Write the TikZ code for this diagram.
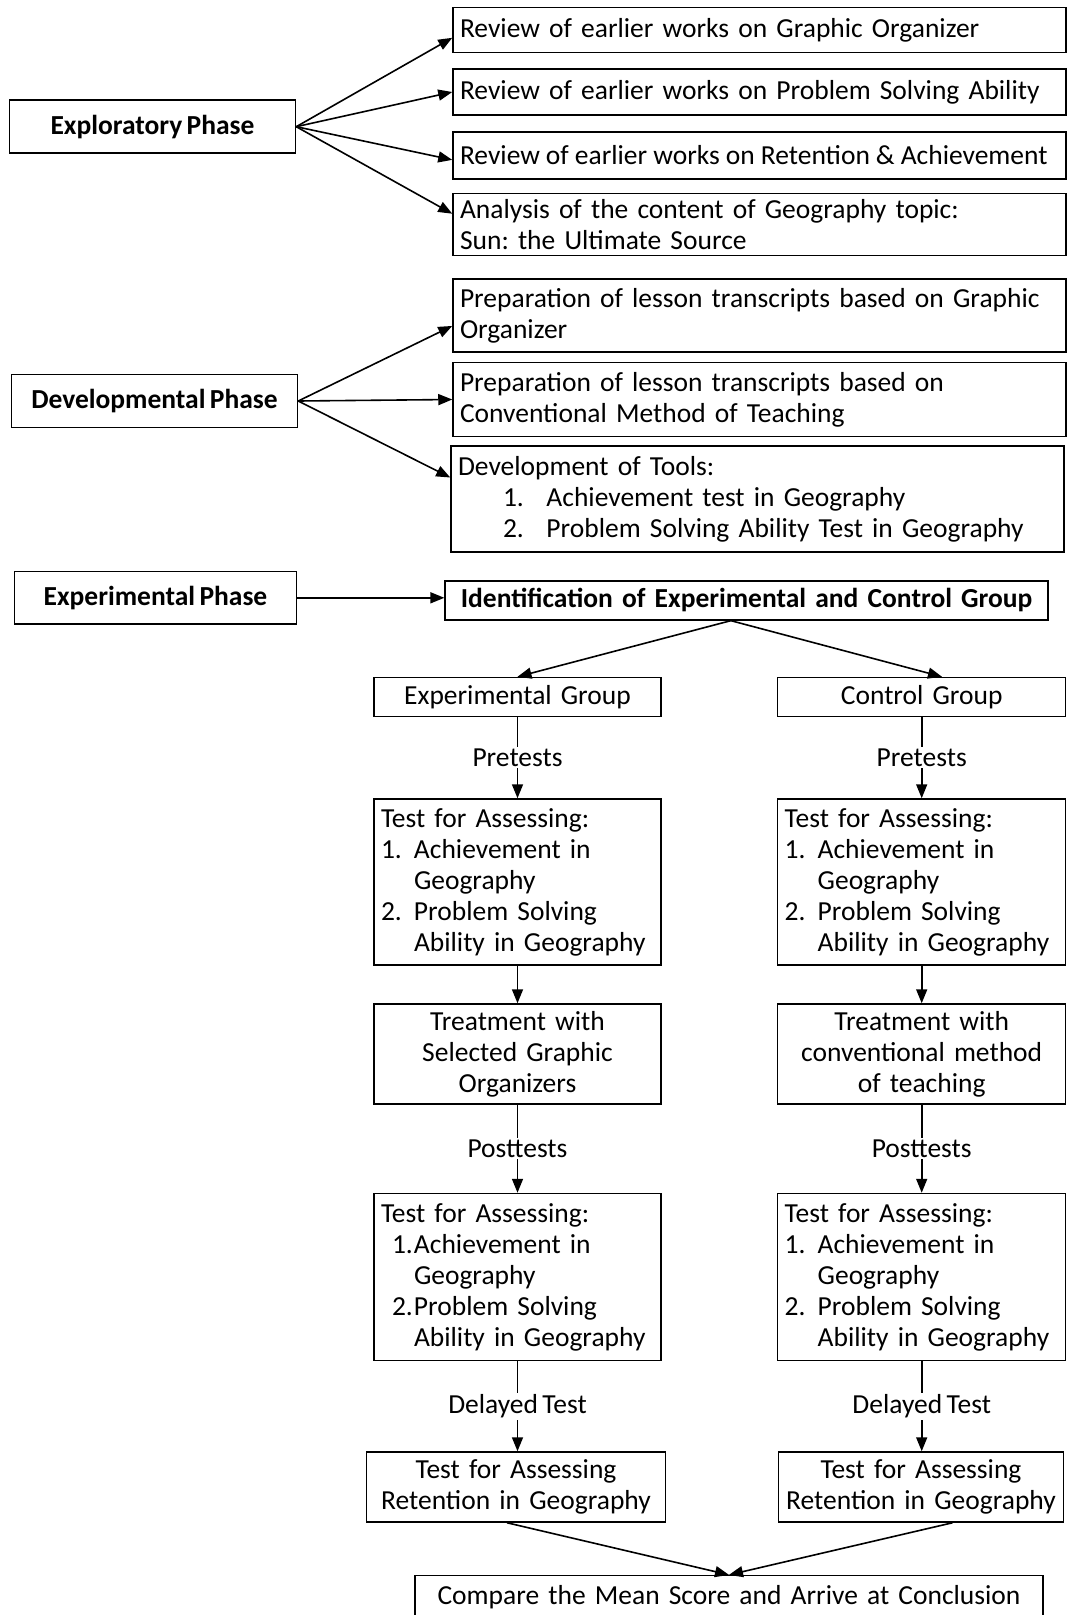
\documentclass[tikz,border=0pt]{standalone}
\usepackage{fontspec}
\setmainfont{Carlito}[WordSpace=0.7]
\usetikzlibrary{arrows.meta,calc}
\newcommand{\fsz}{\fontsize{27.5}{31}\selectfont\frenchspacing\hyphenpenalty=10000\exhyphenpenalty=10000}
\begin{document}
\begin{tikzpicture}[x=1pt,y=-1pt,
  box/.style={draw, line width=1.5pt, inner ysep=0pt, inner xsep=7pt, font=\fsz},
  lbox/.style={box, align=left},
  cbox/.style={box, align=center},
  arr/.style={line width=1.6pt, -{Triangle[length=14pt,width=11pt]}},
  lab/.style={font=\fsz, inner sep=1.5pt, fill=white}]
\useasboundingbox (0,0) rectangle (1070,1615);
\clip (0,0) rectangle (1070,1615);
% Exploratory
\node[box, font=\fsz\bfseries, minimum width=286pt, minimum height=53pt] (exp) at (152.5,126.7) {Exploratory Phase};
\node[lbox, text width=599pt, minimum height=45pt] (b1) at (759.5,29.9) {Review of earlier works on Graphic Organizer};
\node[lbox, text width=599pt, minimum height=46pt] (b2) at (759.5,92) {Review of earlier works on Problem Solving Ability};
\node[lbox, text width=599pt, minimum height=47pt] (b3) at (759.5,155.5) {{\spaceskip=0.22em\relax Review of earlier works on Retention \& Achievement}};
\node[lbox, text width=599pt, minimum height=62pt] (b4) at (759.5,224.5) {Analysis of the content of Geography topic:\\Sun: the Ultimate Source};
\draw[arr] (exp.east) -- ($(b1.north west)!0.67!(b1.south west)$);
\draw[arr] (exp.east) -- (b2.west);
\draw[arr] (exp.east) -- ($(b3.north west)!0.59!(b3.south west)$);
\draw[arr] (exp.east) -- ($(b4.north west)!0.33!(b4.south west)$);
% Developmental
\node[box, font=\fsz\bfseries, minimum width=286pt, minimum height=53pt] (dev) at (154.5,401) {Developmental Phase};
\node[lbox, text width=599pt, minimum height=73pt] (b5) at (759.5,315.5) {Preparation of lesson transcripts based on Graphic\\Organizer};
\node[lbox, text width=599pt, minimum height=74pt] (b6) at (759.5,399.5) {Preparation of lesson transcripts based on\\Conventional Method of Teaching};
\node[lbox, text width=599pt, minimum height=106pt] (b7) at (757.5,499) {Development of Tools:\\\hspace*{45pt}\makebox[43.5pt][l]{1.}Achievement test in Geography\\\hspace*{45pt}\makebox[43.5pt][l]{2.}Problem Solving Ability Test in Geography};
\draw[arr] (dev.east) -- ($(b5.north west)!0.64!(b5.south west)$);
\draw[arr] (dev.east) -- (b6.west);
\draw[arr] (dev.east) -- ($(b7.north west)!0.3!(b7.south west)$);
% Experimental
\node[box, font=\fsz\bfseries, minimum width=282pt, minimum height=52.5pt] (expp) at (155.5,597.8) {Experimental Phase};
\node[cbox, font=\fsz\bfseries, text width=589pt, minimum height=39pt] (ident) at (746.6,600.4) {Identification of Experimental and Control Group};
\draw[arr] (expp.east) -- (expp.east -| ident.west);
\node[cbox, text width=273pt, minimum height=39pt] (eg) at (517.5,697) {Experimental Group};
\node[cbox, text width=274pt, minimum height=39pt] (cg) at (921.7,697) {Control Group};
\draw[arr] ($(ident.south west)!0.474!(ident.south east)$) -- (eg.north);
\draw[arr] ($(ident.south west)!0.474!(ident.south east)$) -- ($(cg.north west)!0.57!(cg.north east)$);
% Pretest boxes
\node[lbox, text width=273pt, minimum height=166pt] (t1) at (517.5,882) {Test for Assessing:\\\makebox[33pt][l]{1.}Achievement in\\\hspace*{33pt}Geography\\\makebox[33pt][l]{2.}Problem Solving\\\hspace*{33pt}Ability in Geography};
\node[lbox, text width=274pt, minimum height=166pt] (t2) at (921.7,882) {Test for Assessing:\\\makebox[33pt][l]{1.}Achievement in\\\hspace*{33pt}Geography\\\makebox[33pt][l]{2.}Problem Solving\\\hspace*{33pt}Ability in Geography};
\draw[arr] (eg.south) -- node[lab]{Pretests} (t1.north);
\draw[arr] (cg.south) -- node[lab]{Pretests} (t2.north);
% Treatment
\node[cbox, text width=273pt, minimum height=100pt] (tr1) at (517.5,1054) {Treatment with\\Selected Graphic\\Organizers};
\node[cbox, text width=274pt, minimum height=100pt] (tr2) at (921.7,1054) {Treatment with\\conventional method\\of teaching};
\draw[arr] (t1.south) -- (tr1.north);
\draw[arr] (t2.south) -- (tr2.north);
% Posttest boxes
\node[lbox, text width=273pt, minimum height=167pt] (p1) at (517.5,1277) {Test for Assessing:\\\hspace*{11pt}\makebox[22pt][l]{1.}Achievement in\\\hspace*{33pt}Geography\\\hspace*{11pt}\makebox[22pt][l]{2.}Problem Solving\\\hspace*{33pt}Ability in Geography};
\node[lbox, text width=274pt, minimum height=167pt] (p2) at (921.7,1277) {Test for Assessing:\\\makebox[33pt][l]{1.}Achievement in\\\hspace*{33pt}Geography\\\makebox[33pt][l]{2.}Problem Solving\\\hspace*{33pt}Ability in Geography};
\draw[arr] (tr1.south) -- node[lab]{Posttests} (p1.north);
\draw[arr] (tr2.south) -- node[lab]{Posttests} (p2.north);
% Retention
\node[cbox, text width=285pt, minimum height=70pt] (r1) at (516,1487) {Test for Assessing\\Retention in Geography};
\node[cbox, text width=279pt, inner xsep=3pt, minimum height=70pt] (r2) at (921,1487) {Test for Assessing\\Retention in Geography};
\draw[arr] (p1.south) -- node[lab]{Delayed Test} (p1.south |- r1.north);
\draw[arr] (p2.south) -- node[lab]{Delayed Test} (p2.south |- r2.north);
% Compare
\node[cbox, text width=614pt, minimum height=44pt] (cmp) at (729,1597.6) {Compare the Mean Score and Arrive at Conclusion};
\draw[arr] ($(r1.south west)!0.47!(r1.south east)$) -- (cmp.north);
\draw[arr] ($(r2.south west)!0.61!(r2.south east)$) -- (cmp.north);
\end{tikzpicture}
\end{document}
